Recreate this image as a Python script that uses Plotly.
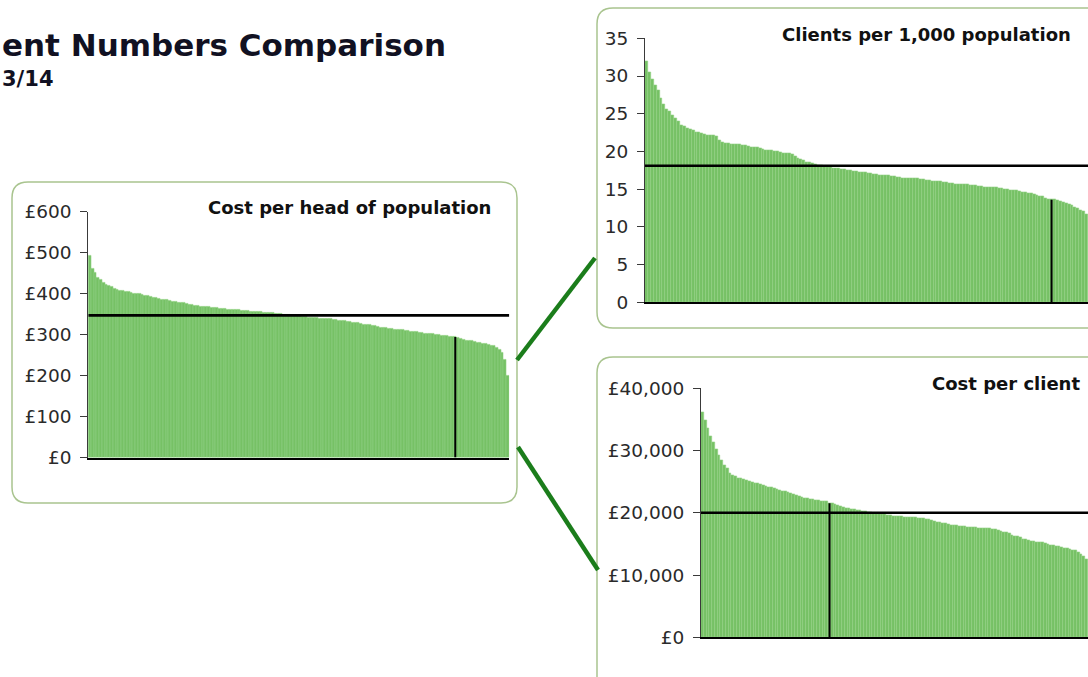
import plotly.graph_objects as go

W, H = 1088, 677

# ---------------- data (sorted high -> low) ----------------
cost_per_head = [
    492, 462, 450, 440, 434, 427, 423, 419, 416, 413,
    410, 408, 406, 405, 404, 403, 401, 400, 399, 397,
    396, 394, 392, 390, 389, 388, 386, 385, 384, 382,
    381, 380, 379, 378, 377, 375, 374, 373, 371, 370,
    369, 368, 368, 367, 366, 366, 365, 364, 364, 363,
    362, 362, 361, 360, 360, 359, 358, 358, 357, 356,
    356, 355, 355, 354, 354, 353, 353, 352, 351, 350,
    349, 348, 348, 347, 346, 346, 345, 344, 343, 342,
    342, 341, 341, 340, 340, 339, 338, 338, 337, 336,
    335, 334, 333, 332, 331, 330, 329, 328, 327, 325,
    324, 323, 322, 321, 320, 318, 317, 316, 315, 314,
    313, 312, 312, 311, 310, 309, 308, 307, 306, 305,
    304, 303, 302, 302, 301, 300, 299, 298, 298, 297,
    296, 295, 294, 292, 290, 288, 286, 285, 284, 282,
    281, 280, 278, 277, 275, 274, 272, 268, 263, 255,
    238, 200,
]

clients_per_1000 = [
    31.9, 30.5, 29.5, 28.8, 28.1, 27.0, 26.2, 25.6, 25.3, 24.8,
    24.4, 24.0, 23.5, 23.3, 23.1, 22.9, 22.8, 22.6, 22.5, 22.4,
    22.3, 22.2, 22.1, 22.1, 22.0, 21.5, 21.2, 21.1, 21.1, 21.0,
    21.0, 20.9, 20.9, 20.8, 20.8, 20.7, 20.6, 20.5, 20.5, 20.4,
    20.3, 20.2, 20.2, 20.1, 20.0, 20.0, 19.9, 19.8, 19.8, 19.8,
    19.6, 19.3, 19.1, 18.9, 18.8, 18.6, 18.5, 18.4, 18.3, 18.2,
    18.1, 18.0, 17.9, 17.9, 17.8, 17.8, 17.7, 17.6, 17.6, 17.5,
    17.5, 17.4, 17.4, 17.3, 17.3, 17.2, 17.1, 17.1, 17.0, 17.0,
    16.9, 16.9, 16.8, 16.8, 16.7, 16.7, 16.6, 16.6, 16.5, 16.5,
    16.5, 16.4, 16.4, 16.4, 16.3, 16.3, 16.2, 16.2, 16.1, 16.1,
    16.0, 16.0, 15.9, 15.9, 15.8, 15.8, 15.7, 15.7, 15.7, 15.6,
    15.6, 15.5, 15.5, 15.5, 15.4, 15.4, 15.3, 15.3, 15.3, 15.2,
    15.2, 15.1, 15.1, 15.0, 15.0, 14.9, 14.9, 14.8, 14.7, 14.6,
    14.6, 14.5, 14.4, 14.3, 14.2, 14.1, 14.0, 13.8, 13.7, 13.6,
    13.6, 13.5, 13.4, 13.3, 13.1, 13.0, 12.8, 12.6, 12.4, 12.2,
    12.0, 11.7,
]

cost_per_client = [
    36200, 34800, 33500, 32300, 31300, 30200, 29200, 28400, 27700, 27100,
    26300, 26000, 25800, 25600, 25500, 25400, 25200, 25100, 24900, 24800,
    24700, 24550, 24400, 24300, 24150, 24050, 23900, 23800, 23650, 23500,
    23400, 23250, 23100, 22950, 22800, 22700, 22550, 22400, 22300, 22200,
    22100, 22000, 21950, 21900, 21850, 21800, 21550, 21500, 21300, 21150,
    21000, 20900, 20800, 20700, 20600, 20500, 20450, 20350, 20300, 20200,
    20150, 20050, 20000, 19950, 19850, 19800, 19700, 19650, 19550, 19500,
    19450, 19400, 19400, 19350, 19300, 19300, 19250, 19200, 19150, 19100,
    19100, 19000, 18900, 18800, 18700, 18550, 18450, 18350, 18250, 18150,
    18050, 18000, 17950, 17900, 17850, 17800, 17750, 17700, 17650, 17600,
    17550, 17550, 17500, 17500, 17450, 17400, 17300, 17150, 17000, 16900,
    16800, 16650, 16450, 16300, 16150, 16000, 15800, 15700, 15600, 15500,
    15400, 15300, 15250, 15200, 15100, 15000, 14850, 14700, 14600, 14550,
    14450, 14350, 14250, 14150, 14050, 13950, 13700, 13400, 12950, 12500,
]

avg_cost_per_head = 347
avg_clients_per_1000 = 18.1
avg_cost_per_client = 20000

highlight_cost_per_head = 132
highlight_clients_per_1000 = 139
highlight_cost_per_client = 46

title_text = "ent Numbers Comparison"
subtitle_text = "3/14"
panel_titles = ["Cost per head of population", "Clients per 1,000 population", "Cost per client"]

ticks_head = [0, 100, 200, 300, 400, 500, 600]
ticklabels_head = ["£0", "£100", "£200", "£300", "£400", "£500", "£600"]
ticks_clients = [0, 5, 10, 15, 20, 25, 30, 35]
ticklabels_clients = ["0", "5", "10", "15", "20", "25", "30", "35"]
ticks_cpc = [0, 10000, 20000, 30000, 40000]
ticklabels_cpc = ["£0", "£10,000", "£20,000", "£30,000", "£40,000"]

# ---------------- styling / layout helpers ----------------
BAR_FILL = "#76c165"
BAR_EDGE = "#92d183"
BOX_EDGE = "#a9c48f"
LINK = "#1b7d1b"
FONT = "DejaVu Sans"


def px(x):
    return x / W


def py(y):
    return 1 - y / H


def rounded_box(x0, y0, x1, y1, r):
    pts = [
        ("M", [(x0 + r, y0)]),
        ("L", [(x1 - r, y0)]),
        ("Q", [(x1, y0), (x1, y0 + r)]),
        ("L", [(x1, y1 - r)]),
        ("Q", [(x1, y1), (x1 - r, y1)]),
        ("L", [(x0 + r, y1)]),
        ("Q", [(x0, y1), (x0, y1 - r)]),
        ("L", [(x0, y0 + r)]),
        ("Q", [(x0, y0), (x0 + r, y0)]),
    ]
    s = ""
    for cmd, ps in pts:
        s += cmd + " " + " ".join(f"{px(a):.5f},{py(b):.5f}" for a, b in ps) + " "
    return s + "Z"


panels = [
    dict(v=cost_per_head, avg=avg_cost_per_head, hi=highlight_cost_per_head,
         tv=ticks_head, tt=ticklabels_head, yr=[0, 600], box=(88.3, 509.3, 211.7, 457.5)),
    dict(v=clients_per_1000, avg=avg_clients_per_1000, hi=highlight_clients_per_1000,
         tv=ticks_clients, tt=ticklabels_clients, yr=[0, 35], box=(645, W, 38.3, 302.3)),
    dict(v=cost_per_client, avg=avg_cost_per_client, hi=highlight_cost_per_client,
         tv=ticks_cpc, tt=ticklabels_cpc, yr=[0, 40000], box=(701, W, 388.3, 637.3)),
]

fig = go.Figure()
layout_axes = {}

for k, p in enumerate(panels, start=1):
    xa = "x" if k == 1 else f"x{k}"
    ya = "y" if k == 1 else f"y{k}"
    n = len(p["v"])
    xs = list(range(n))
    fig.add_trace(go.Bar(
        x=xs, y=p["v"], xaxis=xa, yaxis=ya,
        marker=dict(color=BAR_FILL, line=dict(color=BAR_EDGE, width=0.6)),
        showlegend=False, hoverinfo="skip",
    ))
    fig.add_trace(go.Scatter(
        x=[-0.5, n - 0.5], y=[p["avg"], p["avg"]], xaxis=xa, yaxis=ya,
        mode="lines", line=dict(color="black", width=2.6),
        showlegend=False, hoverinfo="skip",
    ))
    h = p["hi"]
    fig.add_trace(go.Scatter(
        x=[h, h], y=[0, p["v"][h]], xaxis=xa, yaxis=ya,
        mode="lines", line=dict(color="black", width=2),
        showlegend=False, hoverinfo="skip",
    ))
    x0, x1, yt, yb = p["box"]
    xkey = "xaxis" if k == 1 else f"xaxis{k}"
    ykey = "yaxis" if k == 1 else f"yaxis{k}"
    layout_axes[xkey] = dict(
        domain=[px(x0), px(x1)], range=[-0.5, n - 0.5], anchor=ya,
        showgrid=False, zeroline=False, showticklabels=False, ticks="",
        showline=True, linecolor="black", linewidth=2, fixedrange=True,
        automargin=False,
    )
    layout_axes[ykey] = dict(
        domain=[py(yb), py(yt)], range=p["yr"], anchor=xa,
        tickvals=p["tv"], ticktext=p["tt"],
        showgrid=False, zeroline=False,
        showline=True, linecolor="#3a3a3a", linewidth=1,
        ticks="outside", ticklen=7, tickcolor="#3a3a3a", tickwidth=1,
        ticklabelstandoff=5, automargin=False,
        tickfont=dict(family=FONT, size=18.5, color="#2a2a2a"), fixedrange=True,
    )

shapes = [
    dict(type="path", xref="paper", yref="paper", layer="below",
         path=rounded_box(12, 182, 517, 503, 16),
         line=dict(color=BOX_EDGE, width=1.5), fillcolor="white"),
    dict(type="path", xref="paper", yref="paper", layer="below",
         path=rounded_box(597, 8, 1110, 328, 16),
         line=dict(color=BOX_EDGE, width=1.5), fillcolor="white"),
    dict(type="path", xref="paper", yref="paper", layer="below",
         path=rounded_box(597, 357, 1110, 710, 16),
         line=dict(color=BOX_EDGE, width=1.5), fillcolor="white"),
    dict(type="line", xref="paper", yref="paper",
         x0=px(517), y0=py(360), x1=px(595), y1=py(258),
         line=dict(color=LINK, width=4.5)),
    dict(type="line", xref="paper", yref="paper",
         x0=px(518), y0=py(447), x1=px(598), y1=py(570),
         line=dict(color=LINK, width=4.5)),
]

annotations = [
    dict(text=title_text, x=px(0), y=py(45), xref="paper", yref="paper",
         xanchor="left", yanchor="middle", showarrow=False,
         font=dict(family=FONT, size=31, color="#111122", weight="bold")),
    dict(text=subtitle_text, x=px(0), y=py(79), xref="paper", yref="paper",
         xanchor="left", yanchor="middle", showarrow=False,
         font=dict(family=FONT, size=21, color="#111122", weight="bold")),
    dict(text=panel_titles[0], x=px(493), y=py(207), xref="paper", yref="paper",
         xanchor="right", yanchor="middle", showarrow=False,
         font=dict(family=FONT, size=18, color="#111111", weight="bold")),
    dict(text=panel_titles[1], x=px(1073), y=py(35), xref="paper", yref="paper",
         xanchor="right", yanchor="middle", showarrow=False,
         font=dict(family=FONT, size=18, color="#111111", weight="bold")),
    dict(text=panel_titles[2], x=px(1082), y=py(383), xref="paper", yref="paper",
         xanchor="right", yanchor="middle", showarrow=False,
         font=dict(family=FONT, size=18, color="#111111", weight="bold")),
]

fig.update_layout(
    width=W, height=H, margin=dict(l=0, r=0, t=0, b=0, autoexpand=False),
    paper_bgcolor="white", plot_bgcolor="rgba(0,0,0,0)",
    bargap=0, showlegend=False,
    shapes=shapes, annotations=annotations,
    **layout_axes,
)

fig.write_html(
    "out.html",
    config={"displayModeBar": False},
    post_script="document.body.style.margin='0px';document.body.style.overflow='hidden';",
)
